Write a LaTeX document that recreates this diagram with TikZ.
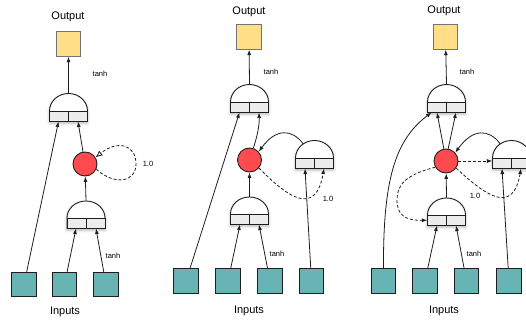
\documentclass[tikz,border=0pt]{standalone}
\usepackage{fontspec}
\setmainfont{Liberation Sans}
\usetikzlibrary{arrows.meta,shadows.blur,calc}
\definecolor{inteal}{RGB}{104,180,180}
\definecolor{outyel}{RGB}{255,222,135}
\definecolor{cellred}{RGB}{255,75,80}
\definecolor{gatebot}{RGB}{236,236,236}
\definecolor{ink}{RGB}{30,30,30}
\tikzset{
  inbox/.style={draw=ink, fill=inteal, minimum width=24.5pt, minimum height=24.5pt, inner sep=0pt, line width=0.9pt},
  outbox/.style={draw=black!55, fill=outyel, minimum width=24.5pt, minimum height=24.5pt, inner sep=0pt, line width=0.9pt},
  unit/.style={circle, draw=ink, fill=cellred, minimum size=24pt, inner sep=0pt, line width=0.9pt},
  conn/.style={-{Latex[length=5.5pt,width=4pt]}, line width=0.8pt, draw=ink},
  dconn/.style={conn, dash pattern=on 3pt off 2pt},
  biglbl/.style={font=\fontsize{11}{13}\selectfont, inner sep=0pt},
  smalllbl/.style={font=\fontsize{7.5}{9}\selectfont, inner sep=0pt},
  gateline/.style={line width=0.9pt, draw=ink},
}
% #1 name, #2 centre x, #3 split y, #4 dome height
\newcommand\gatepart[4]{%
  \draw[gateline, fill=white, blur shadow={shadow xshift=0pt, shadow yshift=-1.5pt, shadow blur radius=3pt, shadow opacity=30}]
    (#2-19,#3+10.5) -- (#2-19,#3) arc[start angle=180,end angle=360,x radius=19,y radius=#4] -- (#2+19,#3+10.5) -- cycle;
  \draw[gateline, fill=gatebot] (#2-19,#3) rectangle (#2+19,#3+10.5);
  \draw[gateline] (#2,#3) -- (#2,#3+10.5);
  \node[inner sep=0pt, minimum width=38pt, minimum height=#4pt+10.5pt, anchor=south] (#1) at (#2,#3+10.5) {};
}
\begin{document}
\begin{tikzpicture}[x=1pt,y=-1pt]
\useasboundingbox (0,0) rectangle (526,320);

% ================= Panel 1 =================
\node[biglbl] (o1t) at (68,17) {Output};
\node[outbox] (o1) at (68.5,44) {};
\gatepart{g1}{68.5}{111}{17.5}
\node[unit] (c1) at (85,164) {};
\gatepart{l1}{86}{218}{17}
\node[inbox] (i11) at (24,284.5) {};
\node[inbox] (i12) at (64.5,284.5) {};
\node[inbox] (i13) at (106,284.5) {};
\node[biglbl] (i1t) at (65,312) {Inputs};
\node[smalllbl] (t11) at (100,74) {tanh};
\node[smalllbl] (t12) at (113,256) {tanh};
\node[smalllbl] (w1) at (148,164) {1.0};

\draw[conn] (g1.north) -- (o1);
\draw[conn] (i11) -- ([xshift=-10pt]g1.south);
\draw[conn] (c1) -- ([xshift=9.5pt]g1.south);
\draw[conn] (l1.north) -- (c1);
\draw[conn] (i12) -- ([xshift=-10pt]l1.south);
\draw[conn] (i13) -- ([xshift=10pt]l1.south);
\draw[dconn, -{Latex[open,length=7pt,width=6pt]}] (c1.-25) .. controls (115,186) and (136,182) .. (136,164) .. controls (136,144) and (117,140) .. (c1.32);

% ================= Panel 2 =================
\node[biglbl] (o2t) at (249,12) {Output};
\node[outbox] (o2) at (249,37) {};
\gatepart{g2}{249.5}{102}{17.5}
\node[unit] (c2) at (249.5,160) {};
\gatepart{r2}{314.5}{158}{17.5}
\gatepart{l2}{249.5}{214}{17}
\node[inbox] (i21) at (186,281) {};
\node[inbox] (i22) at (228,281) {};
\node[inbox] (i23) at (270,281) {};
\node[inbox] (i24) at (311.5,281) {};
\node[biglbl] (i2t) at (249,311) {Inputs};
\node[smalllbl] (t21) at (271,72) {tanh};
\node[smalllbl] (t22) at (277,254) {tanh};
\node[smalllbl] (w2) at (328,199) {1.0};

\draw[conn] (g2.north) -- (o2);
\draw[conn] (i21) -- ([xshift=-10pt]g2.south);
\draw[conn] (c2.72) .. controls (257,137) and (259.5,126) .. ([xshift=9.5pt]g2.south);
\draw[conn] (l2.north) -- (c2);
\draw[conn] (i22) -- ([xshift=-9.5pt]l2.south);
\draw[conn] (i23) -- ([xshift=9.5pt]l2.south);
\draw[conn] (i24) -- ([xshift=-9.5pt]r2.south);
\draw[conn] ([xshift=-11.5pt,yshift=-3.5pt]r2.north) .. controls (292,129) and (276,128) .. (c2.42);
\draw[dconn] (c2.-40) .. controls (290,200) and (316,215) .. ([xshift=9.5pt]r2.south);

% ================= Panel 3 =================
\node[biglbl] (o3t) at (444,11) {Output};
\node[outbox] (o3) at (445.5,37) {};
\gatepart{g3}{446.5}{102}{17.5}
\node[unit] (c3) at (446,161) {};
\gatepart{r3}{511.5}{158}{17.5}
\gatepart{l3}{446.5}{215}{17}
\node[inbox] (i31) at (383.5,281) {};
\node[inbox] (i32) at (425,281) {};
\node[inbox] (i33) at (466.5,281) {};
\node[inbox] (i34) at (509,281) {};
\node[biglbl] (i3t) at (444,311) {Inputs};
\node[smalllbl] (t31) at (467,72) {tanh};
\node[smalllbl] (t32) at (474,254) {tanh};
\node[smalllbl] (w3) at (475,196) {1.0};

\draw[conn] (g3.north) -- (o3);
\draw[conn] (i31.north) .. controls (383,180) and (395,140) .. ([xshift=-15pt]g3.south);
\draw[conn] (c3.100) -- ([xshift=-9.5pt]g3.south);
\draw[conn] (c3.80) -- ([xshift=9.5pt]g3.south);
\draw[conn] (l3.north) -- (c3);
\draw[conn] (i32) -- ([xshift=-9.5pt]l3.south);
\draw[conn] (i33) -- ([xshift=9.5pt]l3.south);
\draw[conn] (i34) -- ([xshift=-9.5pt]r3.south);
\draw[conn] ([xshift=-11.5pt,yshift=-3.5pt]r3.north) .. controls (489,129) and (473,128) .. (c3.42);
\draw[dconn] (c3.east) -- (c3.east -| r3.south west);
\draw[dconn] (c3.-35) .. controls (486,196) and (513,215) .. ([xshift=9.5pt]r3.south);
\draw[dconn] (c3.210) .. controls (405,175) and (397,185) .. (397,200) .. controls (397,215) and (405,220.5) .. ([yshift=5.25pt]l3.south west);
\end{tikzpicture}
\end{document}
